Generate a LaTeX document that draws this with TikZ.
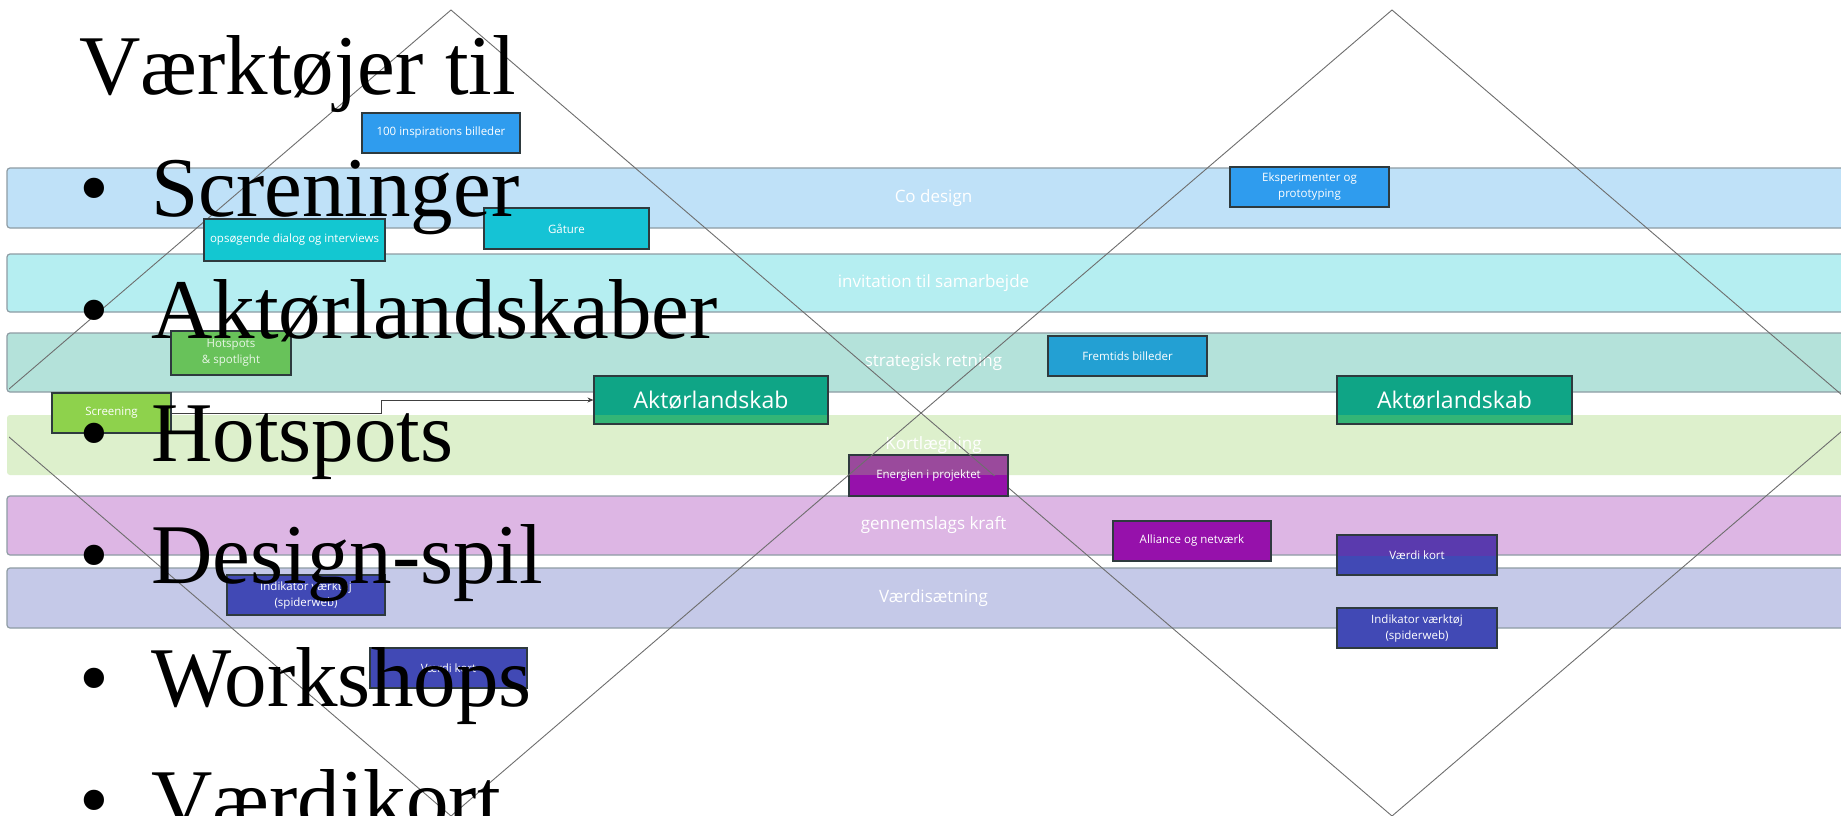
\documentclass[tikz,border=0pt]{standalone}
\usepackage{fontspec}
\setmainfont{Liberation Serif}
\newfontfamily\osans{Open Sans}
\usetikzlibrary{arrows.meta}
\definecolor{bandline}{HTML}{8E9CA4}
\definecolor{cCo}{HTML}{BFE1F8}
\definecolor{cInv}{HTML}{B5EEF1}
\definecolor{cStr}{HTML}{B4E2DA}
\definecolor{cKort}{HTML}{DDF0CC}
\definecolor{cGen}{HTML}{DDB6E4}
\definecolor{cVaerd}{HTML}{C5C9E8}
\definecolor{boxline}{HTML}{2E3A3E}
\definecolor{fBlue}{HTML}{2F9CEE}
\definecolor{fCyan}{HTML}{13C7D1}
\definecolor{fCyanB}{HTML}{15C3D5}
\definecolor{fGreen}{HTML}{68C25A}
\definecolor{fLime}{HTML}{8ED24C}
\definecolor{fTeal}{HTML}{0FA586}
\definecolor{fTealStrip}{HTML}{34B576}
\definecolor{fSky}{HTML}{23A0D3}
\definecolor{fPurple}{HTML}{9611AB}
\definecolor{fPurpleStrip}{HTML}{9A4A9C}
\definecolor{fIndigo}{HTML}{4149B5}
\definecolor{fIndigoStrip}{HTML}{5A3AAE}
\definecolor{dgray}{HTML}{6E6E6E}
\newcommand\mydiamonds{%
  \draw[dline] (lt) -- (lr) -- (lb) -- (ll) -- cycle;
  \draw[dline] (rt) -- (rr) -- (rb) -- (lr) -- cycle;}
\begin{document}
\begin{tikzpicture}[x=1pt,y=-1pt,
  band/.style={rectangle, rounded corners=3pt, minimum width=1853pt, inner sep=0pt,
    font=\osans\fontsize{17}{20}\selectfont, text=white},
  bandb/.style={band, draw=bandline, line width=1.2pt},
  tool/.style={rectangle, draw=boxline, line width=1.1pt, inner sep=1pt, align=center,
    text=white, font=\osans\fontsize{11.5}{16}\selectfont},
  bigtool/.style={tool, font=\osans\fontsize{23}{26}\selectfont},
  big/.style={anchor=base west, inner sep=0pt, font=\fontsize{85}{100}\selectfont, text=black},
  dline/.style={draw=dgray, line width=0.9pt},
  conn/.style={draw=black!75, line width=1pt, -{Stealth[length=6pt,width=5pt]}},
  akstrip/.style={path picture={\fill[fTealStrip] (path picture bounding box.south west)
    rectangle (path picture bounding box.north east |- b4.north);}},
  enstrip/.style={path picture={\fill[fPurpleStrip] (path picture bounding box.north west)
    rectangle (path picture bounding box.east |- b4.south);}},
  vkstrip/.style={path picture={\fill[fIndigoStrip] (path picture bounding box.north west)
    rectangle (path picture bounding box.east |- b5.south);}}
]
\useasboundingbox (0,0) rectangle (1841,815);
\clip (0,0) rectangle (1841,815);
\fill[white] (0,0) rectangle (1841,815);

% bands
\node[bandb, fill=cCo, minimum height=60pt] (b1) at (933.5,198) {Co design};
\node[bandb, fill=cInv, minimum height=58pt] (b2) at (933.5,283) {invitation til samarbejde};
\node[bandb, fill=cStr, minimum height=59pt] (b3) at (933.5,362.5) {strategisk retning};
\node[band, fill=cKort, minimum height=60pt] (b4) at (933.5,445) {Kortlægning};
\node[bandb, fill=cGen, minimum height=59pt] (b5) at (933.5,525.5) {gennemslags kraft};
\node[bandb, fill=cVaerd, minimum height=60pt] (b6) at (933.5,598) {Værdisætning};

% diamond vertices
\coordinate (lt) at (451,10);
\coordinate (lr) at (921,413);
\coordinate (lb) at (451,816);
\coordinate (ll) at (-19,413);
\coordinate (rt) at (1392,10);
\coordinate (rr) at (1863,413);
\coordinate (rb) at (1392,816);
\begin{scope}
  \clip (9,0) rectangle (1841,815);
  \mydiamonds
\end{scope}

% tool boxes
\node[tool, fill=fBlue, minimum width=158pt, minimum height=40pt] (ins) at (441,133) {100 inspirations billeder};
\node[tool, fill=fCyan, minimum width=181pt, minimum height=42pt] (ops) at (294.5,240) {opsøgende dialog og interviews};
\node[tool, fill=fCyanB, minimum width=165pt, minimum height=41pt] (gat) at (566.5,228.5) {Gåture};
\node[tool, fill=fBlue, minimum width=159pt, minimum height=40pt] (eks) at (1309.5,187) {Eksperimenter og\\prototyping};
\node[tool, fill=fGreen, minimum width=120pt, minimum height=44pt, text=white!85!fGreen] (hot) at (231,353) {Hotspots\\\& spotlight};
\node[tool, fill=fLime, minimum width=119pt, minimum height=40pt] (scr) at (111.5,413) {Screening};
\node[bigtool, fill=fTeal, akstrip, minimum width=234pt, minimum height=48pt] (akl) at (711,400) {Aktørlandskab};
\node[bigtool, fill=fTeal, akstrip, minimum width=235pt, minimum height=48pt] (akr) at (1454.5,400) {Aktørlandskab};
\node[tool, fill=fSky, minimum width=159pt, minimum height=40pt] (frm) at (1127.5,356) {Fremtids billeder};
\node[tool, fill=fPurple, enstrip, minimum width=159pt, minimum height=41pt] (ene) at (928.5,475.5) {Energien i projektet};
\node[tool, fill=fPurple, minimum width=158pt, minimum height=40pt] (all) at (1192,541) {Alliance og netværk};
\node[tool, fill=fIndigo, vkstrip, minimum width=160pt, minimum height=40pt] (vkr) at (1417,555) {Værdi kort};
\node[tool, fill=fIndigo, minimum width=158pt, minimum height=40pt] (ikl) at (306,595) {Indikator værktøj\\(spiderweb)};
\node[tool, fill=fIndigo, minimum width=157pt, minimum height=40pt] (vkl) at (448.5,668) {Værdi kort};
\node[tool, fill=fIndigo, minimum width=160pt, minimum height=40pt] (ikr) at (1417,628) {Indikator værktøj\\(spiderweb)};

% diamond lines visible over the tinted top of "Energien i projektet"
\begin{scope}
  \clip (ene.north west) rectangle (ene.east |- b4.south);
  \mydiamonds
\end{scope}

% connector
\coordinate (stepx) at (381,0);
\draw[conn] (scr.east) -- (scr.east -| stepx) |- (akl.west);

% big text
\node[big] (title) at (79,94) {Værktøjer til};
\node[big] (bu1) at (79,216.4) {•};
\node[big] (it1) at (151,216.4) {Screninger};
\node[big] (bu2) at (79,338.8) {•};
\node[big] (it2) at (151,338.8) {Aktørlandskaber};
\node[big] (bu3) at (79,461.2) {•};
\node[big] (it3) at (151,461.2) {Hotspots};
\node[big] (bu4) at (79,583.6) {•};
\node[big] (it4) at (151,583.6) {Design-spil};
\node[big] (bu5) at (79,706) {•};
\node[big] (it5) at (151,706) {Workshops};
\node[big] (bu6) at (79,828.4) {•};
\node[big] (it6) at (151,828.4) {Værdikort};
\end{tikzpicture}
\end{document}
